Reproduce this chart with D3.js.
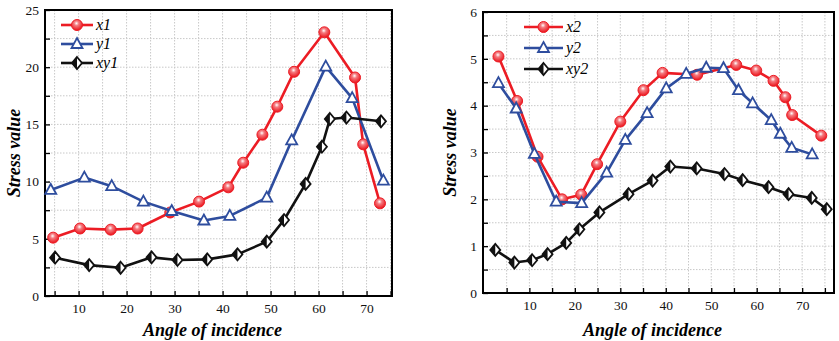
<!DOCTYPE html>
<html>
<head>
	<meta charset="utf-8">
	<title>Stress value</title>
	<script src="https://cdn.jsdelivr.net/npm/d3@7/dist/d3.min.js"></script>
	<style>
		body { margin: 0; background: #fff; }
	</style>
</head>
<body>
<script type="text/javascript">
	// left panel: x1 / y1 / xy1
	var angX1 = [4.7, 10.3, 16.7, 22.3, 29.1, 35.1, 41.2, 44.3, 48.3, 51.4, 54.9, 61.2, 67.6, 69.3, 72.8];
	var valX1 = [5.1, 5.9, 5.8, 5.9, 7.3, 8.25, 9.5, 11.65, 14.1, 16.55, 19.6, 23.05, 19.1, 13.26, 8.1];
	var angY1 = [4.2, 11.2, 16.9, 23.5, 29.4, 36.1, 41.5, 49.2, 54.4, 61.5, 67.0, 73.5];
	var valY1 = [9.27, 10.35, 9.6, 8.25, 7.43, 6.6, 7.0, 8.6, 13.6, 20.05, 17.3, 10.08];
	var angXY1 = [5.1, 12.2, 18.75, 25.2, 30.6, 36.8, 43.1, 49.2, 52.8, 57.3, 60.7, 62.35, 65.8, 73.0];
	var valXY1 = [3.35, 2.7, 2.47, 3.38, 3.15, 3.2, 3.64, 4.75, 6.64, 9.8, 13.05, 15.47, 15.6, 15.27];

	// right panel: x2 / y2 / xy2
	var angX2 = [3.2, 7.3, 11.8, 17.2, 21.4, 24.9, 30.0, 35.1, 39.3, 46.9, 55.5, 59.9, 63.7, 66.3, 67.8, 74.2];
	var valX2 = [5.05, 4.1, 2.91, 2.0, 2.1, 2.75, 3.66, 4.33, 4.7, 4.66, 4.87, 4.75, 4.53, 4.18, 3.8, 3.36];
	var angY2 = [3.2, 7.1, 11.1, 15.9, 21.5, 27.0, 31.1, 35.9, 40.1, 44.5, 48.9, 52.7, 56.0, 59.1, 63.2, 65.2, 67.7, 72.2];
	var valY2 = [4.48, 3.94, 2.97, 1.95, 1.92, 2.57, 3.27, 3.84, 4.37, 4.68, 4.81, 4.8, 4.33, 4.05, 3.69, 3.4, 3.1, 2.96];
	var angXY2 = [2.5, 6.7, 10.6, 14.0, 18.1, 21.0, 25.4, 31.8, 37.1, 41.0, 46.8, 52.9, 56.9, 62.6, 67.0, 72.1, 75.4];
	var valXY2 = [0.92, 0.65, 0.7, 0.83, 1.07, 1.36, 1.72, 2.11, 2.4, 2.7, 2.66, 2.54, 2.41, 2.26, 2.11, 2.03, 1.79];

	var xTicks = [10, 20, 30, 40, 50, 60, 70];
	var yTicksLeft = [0, 5, 10, 15, 20, 25];
	var yTicksRight = [0, 1, 2, 3, 4, 5, 6];

	var svgWidth = 839, svgHeight = 341;
	var RED = "#ec1c24", BLUE = "#2e4d9e", BLACK = "#111";
	var SERIF = "'Liberation Serif', Tinos, 'Times New Roman', Times, 'DejaVu Serif', 'Noto Serif', FreeSerif, serif";

	var svg = d3.select("body").append("svg")
		.attr("width", svgWidth)
		.attr("height", svgHeight);

	var defs = svg.append("defs");
	var grad = defs.append("radialGradient")
		.attr("id", "ball")
		.attr("cx", "45%").attr("cy", "35%").attr("r", "60%");
	grad.append("stop").attr("offset", "0%").attr("stop-color", "#fff");
	grad.append("stop").attr("offset", "35%").attr("stop-color", "#f47a7f");
	grad.append("stop").attr("offset", "100%").attr("stop-color", RED);

	function zip(a, b) {
		return a.map(function(v, i) { return { x: v, y: b[i] }; });
	}

	// draws one marker at the origin of group g
	function marker(g, kind) {
		if (kind == "circle") {
			g.append("circle").attr("r", 5.5)
				.attr("fill", "url(#ball)")
				.attr("stroke", RED).attr("stroke-width", 1);
		} else if (kind == "triangle") {
			g.append("path").attr("d", "M0,-6L5.5,4L-5.5,4Z")
				.attr("fill", "#fff")
				.attr("stroke", BLUE).attr("stroke-width", 1.8);
		} else {
			g.append("path").attr("d", "M0,-6L5,0L0,6L-5,0Z")
				.attr("fill", "#fff")
				.attr("stroke", BLACK).attr("stroke-width", 1.8);
			g.append("path").attr("d", "M0,-6L0,6L-5,0Z")
				.attr("fill", BLACK);
		}
	}

	function panel(cfg) {
		var x = d3.scaleLinear().domain(cfg.xDomain).range([cfg.left, cfg.right]);
		var y = d3.scaleLinear().domain(cfg.yDomain).range([cfg.bottom, cfg.top]);
		var g = svg.append("g");

		// dotted grid on major and minor steps
		var gx = d3.range(5, cfg.xDomain[1], 5);
		var gy = d3.range(cfg.yStep, cfg.yDomain[1], cfg.yStep);
		g.selectAll(".gx").data(gx).enter().append("line")
			.attr("x1", x).attr("x2", x)
			.attr("y1", cfg.top).attr("y2", cfg.bottom)
			.attr("stroke", "#c8c8c8").attr("stroke-width", 1)
			.attr("stroke-dasharray", "1.5,1.5");
		g.selectAll(".gy").data(gy).enter().append("line")
			.attr("y1", y).attr("y2", y)
			.attr("x1", cfg.left).attr("x2", cfg.right)
			.attr("stroke", "#c8c8c8").attr("stroke-width", 1)
			.attr("stroke-dasharray", "1.5,1.5");

		// axes, ticks pointing inwards
		var xa = g.append("g").attr("transform", "translate(0," + cfg.bottom + ")")
			.call(d3.axisBottom(x).tickValues(gx).tickSize(-5).tickPadding(7)
				.tickFormat(function(d) { return xTicks.indexOf(d) >= 0 ? d : ""; }));
		var ya = g.append("g").attr("transform", "translate(" + cfg.left + ",0)")
			.call(d3.axisLeft(y).tickValues(d3.range(0, cfg.yDomain[1] + 1e-9, cfg.yStep)).tickSize(-5).tickPadding(6)
				.tickFormat(function(d) { return cfg.yTicks.indexOf(d) >= 0 ? d : ""; }));
		[xa, ya].forEach(function(a) {
			a.attr("font-family", SERIF).attr("font-size", 13.5);
			a.select(".domain").remove();
			a.selectAll("line").attr("stroke", "#000").attr("stroke-width", 1.3);
			a.selectAll("text").attr("fill", "#111");
		});

		g.append("rect")
			.attr("x", cfg.left).attr("y", cfg.top)
			.attr("width", cfg.right - cfg.left).attr("height", cfg.bottom - cfg.top)
			.attr("fill", "none").attr("stroke", "#000").attr("stroke-width", 2);

		var line = d3.line().x(function(d) { return x(d.x); }).y(function(d) { return y(d.y); });

		cfg.series.forEach(function(s) {
			var pts = zip(s.ang, s.val);
			g.append("path").datum(pts).attr("d", line)
				.attr("fill", "none").attr("stroke", s.color).attr("stroke-width", 2.6)
				.attr("stroke-linejoin", "round");
			g.selectAll(null).data(pts).enter().append("g")
				.attr("transform", function(d) { return "translate(" + x(d.x) + "," + y(d.y) + ")"; })
				.each(function() { marker(d3.select(this), s.kind); });
		});

		// legend
		cfg.series.forEach(function(s, i) {
			var ly = cfg.legY + i * cfg.legGap;
			g.append("line")
				.attr("x1", cfg.legX).attr("x2", cfg.legX + cfg.legLen)
				.attr("y1", ly).attr("y2", ly)
				.attr("stroke", s.color).attr("stroke-width", 2.6);
			marker(g.append("g").attr("transform", "translate(" + (cfg.legX + cfg.legLen / 2) + "," + ly + ")"), s.kind);
			g.append("text")
				.attr("x", cfg.legX + cfg.legLen + 3).attr("y", ly + 5)
				.attr("font-family", SERIF).attr("font-size", 16).attr("font-style", "italic")
				.text(s.name);
		});

		g.append("text")
			.attr("x", (cfg.left + cfg.right) / 2 - 6).attr("y", 336)
			.attr("text-anchor", "middle")
			.attr("font-family", SERIF).attr("font-size", 18)
			.attr("font-weight", "bold").attr("font-style", "italic")
			.text("Angle of incidence");
		g.append("text")
			.attr("transform", "translate(" + cfg.yTitleX + "," + ((cfg.top + cfg.bottom) / 2) + ") rotate(-90)")
			.attr("text-anchor", "middle")
			.attr("font-family", SERIF).attr("font-size", 18)
			.attr("font-weight", "bold").attr("font-style", "italic")
			.text("Stress value");
	}

	panel({
		left: 45, right: 392, top: 10, bottom: 296,
		xDomain: [3, 75.3], yDomain: [0, 25], yStep: 2.5, yTicks: yTicksLeft,
		legX: 61, legLen: 32, legY: 25, legGap: 19, yTitleX: 20,
		series: [
			{ name: "x1", ang: angX1, val: valX1, color: RED, kind: "circle" },
			{ name: "y1", ang: angY1, val: valY1, color: BLUE, kind: "triangle" },
			{ name: "xy1", ang: angXY1, val: valXY1, color: BLACK, kind: "diamond" }
		]
	});

	panel({
		left: 483, right: 834, top: 12, bottom: 293,
		xDomain: [-0.2, 77], yDomain: [0, 6], yStep: 0.5, yTicks: yTicksRight,
		legX: 524, legLen: 39, legY: 27, legGap: 21, yTitleX: 456,
		series: [
			{ name: "x2", ang: angX2, val: valX2, color: RED, kind: "circle" },
			{ name: "y2", ang: angY2, val: valY2, color: BLUE, kind: "triangle" },
			{ name: "xy2", ang: angXY2, val: valXY2, color: BLACK, kind: "diamond" }
		]
	});
</script>
</body>
</html>
